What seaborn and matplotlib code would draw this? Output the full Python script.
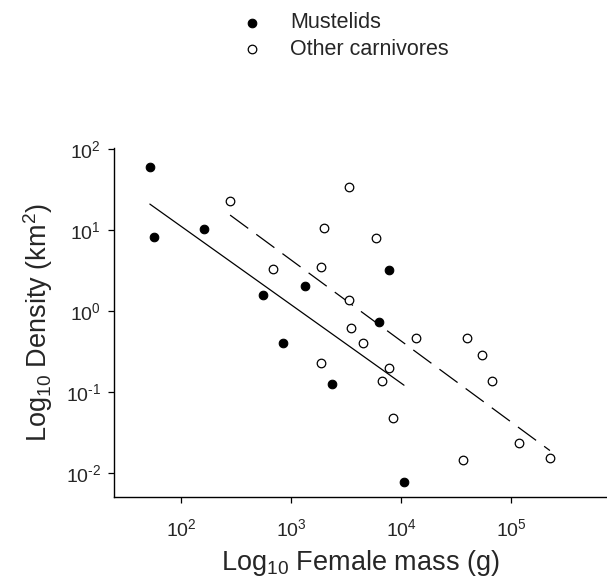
import numpy as np
import matplotlib
matplotlib.use("Agg")
import matplotlib.pyplot as plt
import seaborn as sns

sns.set_style("ticks")
plt.rcParams['font.family'] = ['Liberation Sans', 'DejaVu Sans']
plt.rcParams['mathtext.fontset'] = 'custom'
plt.rcParams['mathtext.rm'] = 'Liberation Sans'
plt.rcParams['mathtext.it'] = 'Liberation Sans:italic'
plt.rcParams['mathtext.bf'] = 'Liberation Sans:bold'
plt.rcParams['axes.unicode_minus'] = False

# female mass (g) and density for each group
mustelid_mass = [52, 56.5, 163, 560, 1340, 841, 2370, 6350, 7830, 10640]
mustelid_density = [60, 8.1, 10.2, 1.59, 2.05, 0.406, 0.126, 0.724, 3.18, 0.0077]

other_mass = [279, 3390, 1995, 5930, 690, 1884, 3390, 3475, 4490, 13550,
              40100, 54200, 1884, 7780, 6760, 67100, 8460, 118000, 36400, 226000]
other_density = [22.6, 33.3, 10.5, 7.9, 3.24, 3.49, 1.37, 0.617, 0.397, 0.457,
                 0.468, 0.284, 0.226, 0.198, 0.138, 0.138, 0.0482, 0.0233, 0.0144, 0.0155]

labels = ['Mustelids', 'Other carnivores']
xticks = [1e2, 1e3, 1e4, 1e5]
xtick_labels = ['10$^{2}$', '10$^{3}$', '10$^{4}$', '10$^{5}$']
yticks = [1e-2, 1e-1, 1e0, 1e1, 1e2]
ytick_labels = ['10$^{\\text{-}2}$', '10$^{\\text{-}1}$', '10$^{0}$', '10$^{1}$', '10$^{2}$']


def loglog_fit(x, y):
    lx, ly = np.log10(x), np.log10(y)
    b, a = np.polyfit(lx, ly, 1)
    xs = np.array([lx.min(), lx.max()])
    return 10 ** xs, 10 ** (a + b * xs)


fig = plt.figure(figsize=(6.07, 5.84), dpi=100)
ax = fig.add_axes([0.188, 0.149, 0.812, 0.598])

ax.set_xscale('log')
ax.set_yscale('log')

sns.scatterplot(x=mustelid_mass, y=mustelid_density, ax=ax, s=38,
                color='black', edgecolor='black', linewidth=0.8,
                label=labels[0], zorder=3)
ax.scatter(other_mass, other_density, s=38, facecolors='white',
           edgecolors='black', linewidths=0.9, label=labels[1], zorder=3)

fx, fy = loglog_fit(mustelid_mass, mustelid_density)
ax.plot(fx, fy, color='black', lw=0.9, zorder=2)
fx, fy = loglog_fit(other_mass, other_density)
ax.plot(fx, fy, color='black', lw=0.9, dashes=(18, 8), zorder=2)

ax.set_xlim(10 ** 1.391, 10 ** 5.873)
ax.set_ylim(10 ** -2.296, 10 ** 2.012)
ax.set_xticks(xticks)
ax.set_xticklabels(xtick_labels)
ax.set_yticks(yticks)
ax.set_yticklabels(ytick_labels)
ax.minorticks_off()
ax.tick_params(axis='both', which='major', labelsize=14, length=4.3,
               width=0.9, color='black', direction='out')
ax.tick_params(axis='x', pad=11)
ax.tick_params(axis='y', pad=5)

for side in ['top', 'right']:
    ax.spines[side].set_visible(False)
for side in ['left', 'bottom']:
    ax.spines[side].set_linewidth(1.0)
    ax.spines[side].set_color('black')

ax.set_xlabel('Log$_{10}$ Female mass (g)', fontsize=19.5, labelpad=6)
ax.set_ylabel('Log$_{10}$ Density (km$^{2}$)', fontsize=19.5, labelpad=8)

handles, labs = ax.get_legend_handles_labels()
if ax.legend_ is not None:
    ax.legend_.remove()
fig.legend(handles, labs, loc='upper left', bbox_to_anchor=(241 / 607, 0.979),
           frameon=False, fontsize=15.5, handlelength=1.0, handletextpad=1.28,
           labelspacing=0.26, borderpad=0, borderaxespad=0, markerscale=1.0)

plt.savefig('out.png', dpi=100)
